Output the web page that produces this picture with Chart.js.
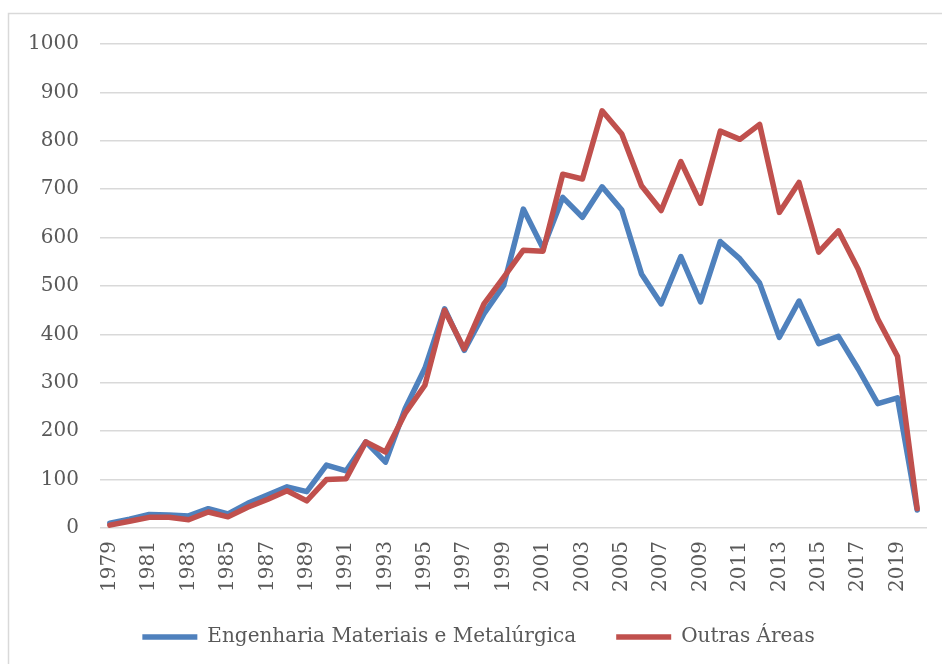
<!DOCTYPE html>
<html>
<head>
<meta charset="utf-8">
<script src="https://cdn.jsdelivr.net/npm/chart.js@4.4.0/dist/chart.umd.min.js"></script>
<style>
  body { margin: 0; background: #ffffff; }
  #wrap { position: relative; width: 942px; height: 664px; }
</style>
</head>
<body>
<div id="wrap"><canvas id="chart" width="942" height="664"></canvas></div>
<script>
// Years on the x axis
const years = [];
for (let y = 1979; y <= 2020; y++) years.push(String(y));

// Values
const engenhariaValues = [
  10, 18, 28, 27, 25, 40, 29, 51, 68, 85,
  75, 130, 118, 178, 136, 247, 330, 453, 367, 443,
  501, 659, 578, 683, 642, 705, 657, 525, 463, 561,
  467, 592, 556, 506, 394, 469, 381, 396, 329, 257,
  269, 37
];
const outrasValues = [
  6, 14, 22, 22, 17, 33, 23, 43, 59, 77,
  56, 100, 102, 178, 157, 237, 295, 450, 370, 463,
  518, 574, 572, 731, 721, 862, 814, 707, 656, 757,
  671, 820, 803, 834, 652, 714, 570, 614, 535, 432,
  355, 40
];
const seriesNames = ['Engenharia Materiais e Metalúrgica', 'Outras Áreas'];
const seriesColors = ['#4F81BD', '#C0504D'];

const textColor = '#595959';
const fontFamily = '"DejaVu Serif", "Liberation Serif", serif';

// Thin grey border round the chart area, like the Excel frame
const framePlugin = {
  id: 'frame',
  beforeDraw(chart) {
    const ctx = chart.ctx;
    ctx.save();
    ctx.fillStyle = '#ffffff';
    ctx.fillRect(0, 0, chart.width, chart.height);
    ctx.strokeStyle = '#d9d9d9';
    ctx.lineWidth = 1.5;
    ctx.strokeRect(8.5, 13.5, chart.width + 10, chart.height + 10);
    ctx.restore();
  }
};

// Keep the legend height fixed (wide item padding would eat the plot) and move it into place
const legendFitPlugin = {
  id: 'legendFit',
  beforeLayout(chart) {
    const lg = chart.legend;
    if (lg && !lg._fixedFit) {
      const origFit = lg.fit.bind(lg);
      lg.fit = function () {
        origFit();
        this.height = 44;
      };
      lg._fixedFit = true;
    }
  },
  afterLayout(chart) {
    const lg = chart.legend;
    if (lg) {
      lg.left += 15;
      lg.right += 15;
      lg.top -= 25;
      lg.bottom = chart.height;
      lg.height = lg.bottom - lg.top;
    }
  }
};

const ctx = document.getElementById('chart').getContext('2d');
new Chart(ctx, {
  type: 'line',
  data: {
    labels: years,
    datasets: [
      {
        label: seriesNames[0],
        data: engenhariaValues,
        borderColor: seriesColors[0],
        backgroundColor: seriesColors[0],
        borderWidth: 5.5,
        borderCapStyle: 'round',
        borderJoinStyle: 'round',
        pointRadius: 0,
        tension: 0,
        order: 2
      },
      {
        label: seriesNames[1],
        data: outrasValues,
        borderColor: seriesColors[1],
        backgroundColor: seriesColors[1],
        borderWidth: 5.5,
        borderCapStyle: 'round',
        borderJoinStyle: 'round',
        pointRadius: 0,
        tension: 0,
        order: 1
      }
    ]
  },
  options: {
    responsive: false,
    animation: false,
    layout: { padding: { left: 0, right: 15, top: 44, bottom: 8 } },
    plugins: {
      tooltip: { enabled: false },
      legend: {
        position: 'bottom',
        labels: {
          usePointStyle: true,
          pointStyle: 'line',
          pointStyleWidth: 55,
          color: textColor,
          font: { family: fontFamily, size: 20 },
          padding: 40,
          sort: (a, b) => a.datasetIndex - b.datasetIndex
        }
      }
    },
    scales: {
      x: {
        offset: true,
        grid: { display: false, drawTicks: false },
        border: { display: false },
        ticks: {
          autoSkip: false,
          maxRotation: 90,
          minRotation: 90,
          padding: 13,
          color: textColor,
          font: { family: fontFamily, size: 20 },
          callback: function (value, index) {
            return index % 2 === 0 ? this.getLabelForValue(value) : '';
          }
        },
        afterFit: (scale) => {
          scale.height = 84;
          scale.paddingLeft = 0;
          scale.paddingRight = 0;
        }
      },
      y: {
        min: 0,
        max: 1000,
        grid: { color: '#d9d9d9', lineWidth: 1.5, drawTicks: false },
        border: { display: false },
        ticks: {
          stepSize: 100,
          padding: 21,
          color: textColor,
          font: { family: fontFamily, size: 20 },
          callback: (value) => String(value)
        },
        afterFit: (scale) => { scale.width = 100; }
      }
    }
  },
  plugins: [framePlugin, legendFitPlugin]
});
</script>
</body>
</html>
